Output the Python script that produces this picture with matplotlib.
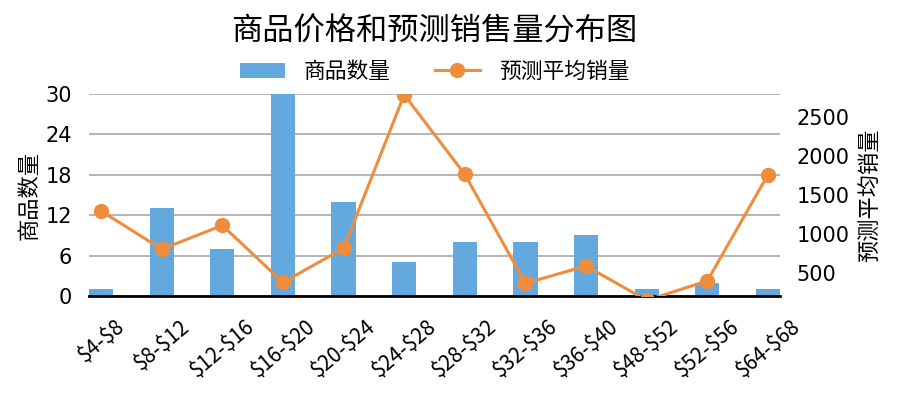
import matplotlib
matplotlib.use("Agg")
import matplotlib.pyplot as plt
import numpy as np

plt.rcParams["font.family"] = ["DejaVu Sans", "Noto Sans CJK SC"]

CJK = ["Noto Sans CJK SC", "DejaVu Sans"]

price_bins = ["$4-$8", "$8-$12", "$12-$16", "$16-$20", "$20-$24", "$24-$28",
              "$28-$32", "$32-$36", "$36-$40", "$48-$52", "$52-$56", "$64-$68"]
item_counts = [1, 13, 7, 30, 14, 5, 8, 8, 9, 1, 2, 1]
avg_sales = [1295, 805, 1110, 380, 815, 2785, 1765, 368, 590, 150, 398, 1758]
sales_range = (205, 2795)

BAR_COLOR = "#64a9dd"
LINE_COLOR = "#f08d3c"

fig = plt.figure(figsize=(8.99, 3.97), dpi=100)
ax = fig.add_axes([89 / 899, 1 - 296 / 397, (780 - 89) / 899, (296 - 94) / 397])

x = np.arange(len(price_bins))
bars = ax.bar(x, item_counts, width=0.4, color=BAR_COLOR, zorder=2, label="商品数量")
ax.set_xlim(-0.2, len(price_bins) - 0.8)
ax.set_ylim(0, 30)
ax.set_yticks([0, 6, 12, 18, 24, 30])
ax.grid(axis="y", color="#b4b4b4", lw=1.4, zorder=0)
ax.set_axisbelow(True)
for s in ["top", "right", "left"]:
    ax.spines[s].set_visible(False)
ax.spines["bottom"].set_color("black")
ax.spines["bottom"].set_linewidth(2.0)
ax.spines["bottom"].set_zorder(5)
ax.tick_params(axis="both", length=0, labelsize=15)
ax.tick_params(axis="y", pad=12)
ax.set_xticks(x)
ax.set_xticklabels([b.replace("$", r"\$") for b in price_bins], rotation=40,
                   ha="center", fontsize=15, family=CJK)
ax.tick_params(axis="x", pad=14)
ax.set_ylabel("商品数量", fontsize=16, family=CJK, labelpad=4)

ax2 = ax.twinx()
line, = ax2.plot(x, avg_sales, color=LINE_COLOR, lw=2.2, marker="o", ms=10,
                 label="预测平均销量", zorder=3)
ax2.set_ylim(*sales_range)
ax2.set_yticks([500, 1000, 1500, 2000, 2500])
for s in ["top", "right", "left", "bottom"]:
    ax2.spines[s].set_visible(False)
ax2.tick_params(axis="y", length=0, labelsize=15, pad=12)
ax2.set_ylabel("预测平均销量", fontsize=16, family=CJK, labelpad=6)

ax.legend([bars, line], ["商品数量", "预测平均销量"], loc="lower center",
          bbox_to_anchor=(0.5, 1.0), ncol=2, frameon=False,
          prop={"family": CJK, "size": 15.7}, handlelength=2.1,
          handletextpad=0.85, columnspacing=2.0, borderaxespad=0.1)

fig.text((89 + 780) / 2 / 899, 1 - 32 / 397, "商品价格和预测销售量分布图",
         ha="center", va="center", fontsize=22.5, family=CJK)

fig.savefig("out.png", dpi=100)
